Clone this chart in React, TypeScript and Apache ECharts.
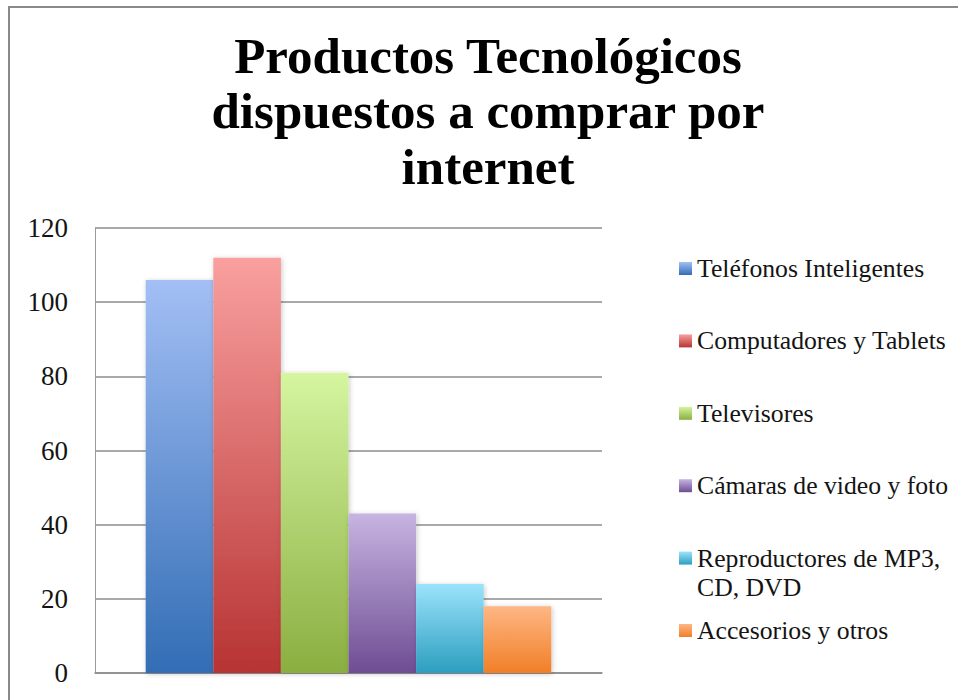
import React, { useEffect, useRef } from "react";
import * as echarts from "echarts";

const titleText = "Productos Tecnológicos\ndispuestos a comprar por\ninternet";
const categories = [""];
const seriesNames = [
  "Teléfonos Inteligentes",
  "Computadores y Tablets",
  "Televisores",
  "Cámaras de video y foto",
  "Reproductores de MP3, CD, DVD",
  "Accesorios y otros",
];
const seriesValues = [106, 112, 81, 43, 24, 18];
const legendLabels = [
  "Teléfonos Inteligentes",
  "Computadores y Tablets",
  "Televisores",
  "Cámaras de video y foto",
  "\nReproductores de MP3,\nCD, DVD",
  "Accesorios y otros",
];
const yMin = 0;
const yMax = 120;
const yInterval = 20;

const gradientTops = ["#a3bff5", "#f9a09f", "#d5f5a0", "#c7b4e1", "#9be3fc", "#ffb685"];
const gradientBottoms = ["#326db5", "#b73333", "#8bae41", "#6e4d93", "#2c9ebf", "#f07f27"];

const FONT = "'Liberation Serif', 'Times New Roman', serif";

export default function App() {
  const ref = useRef<HTMLDivElement>(null);
  useEffect(() => {
    if (!ref.current) return;
    const chart = echarts.init(ref.current, undefined, { renderer: "svg" });

    const lineH = 29;
    const firstCenter = 268.5;
    const step = 72.4;

    const legends = seriesNames.map((name, i) => {
      const center = firstCenter + step * i;
      const lines = legendLabels[i].split("\n").length;
      const boxH = Math.max(13, lines * lineH);
      return {
        orient: "vertical" as const,
        left: 679,
        top: center - boxH / 2,
        padding: 0,
        itemWidth: 13,
        itemHeight: 13,
        icon: "rect",
        data: [name],
        selectedMode: false,
        formatter: () => legendLabels[i],
        itemStyle: { shadowBlur: 0, shadowColor: "transparent", borderWidth: 0 },
        textStyle: {
          fontFamily: FONT,
          fontSize: 25.7,
          lineHeight: lineH,
          color: "#141414",
        },
      };
    });

    const series = seriesNames.map((name, i) => ({
      type: "bar" as const,
      name,
      data: [seriesValues[i]],
      barGap: "0%",
      barCategoryGap: "20%",
      itemStyle: {
        color: new echarts.graphic.LinearGradient(0, 0, 0, 1, [
          { offset: 0, color: gradientTops[i] },
          { offset: 1, color: gradientBottoms[i] },
        ]),
        shadowBlur: 5,
        shadowColor: "rgba(0,0,0,0.22)",
        shadowOffsetX: 1,
        shadowOffsetY: 1,
      },
    }));

    chart.setOption({
      animation: false,
      backgroundColor: "#ffffff",
      title: {
        text: titleText,
        left: 488,
        top: 28,
        padding: 0,
        textAlign: "center",
        textStyle: {
          fontFamily: FONT,
          fontSize: 51,
          fontWeight: "bold",
          lineHeight: 55.5,
          color: "#000000",
        },
      },
      legend: legends,
      grid: { left: 95, right: 356, top: 228, bottom: 27, containLabel: false },
      xAxis: {
        type: "category",
        data: categories,
        axisLine: { show: true, lineStyle: { color: "#8c8c8c", width: 1.5 } },
        axisTick: { show: false },
        axisLabel: { show: false },
      },
      yAxis: {
        type: "value",
        min: yMin,
        max: yMax,
        interval: yInterval,
        axisLine: { show: true, lineStyle: { color: "#9a9a9a", width: 1 } },
        axisTick: { show: false },
        axisLabel: {
          margin: 27,
          fontFamily: FONT,
          fontSize: 27,
          color: "#141414",
        },
        splitLine: { show: true, lineStyle: { color: "#8c8c8c", width: 1.5 } },
      },
      graphic: [
        {
          type: "line",
          shape: { x1: 9, y1: 6, x2: 9, y2: 700 },
          style: { stroke: "#8a8a8a", lineWidth: 2 },
          silent: true,
        },
        {
          type: "line",
          shape: { x1: 8, y1: 7, x2: 958, y2: 7 },
          style: { stroke: "#8a8a8a", lineWidth: 2 },
          silent: true,
        },
      ],
      series,
    });

    return () => chart.dispose();
  }, []);

  return (
    <div
      ref={ref}
      style={{ position: "absolute", left: 0, top: 0, width: 958, height: 700 }}
    />
  );
}
